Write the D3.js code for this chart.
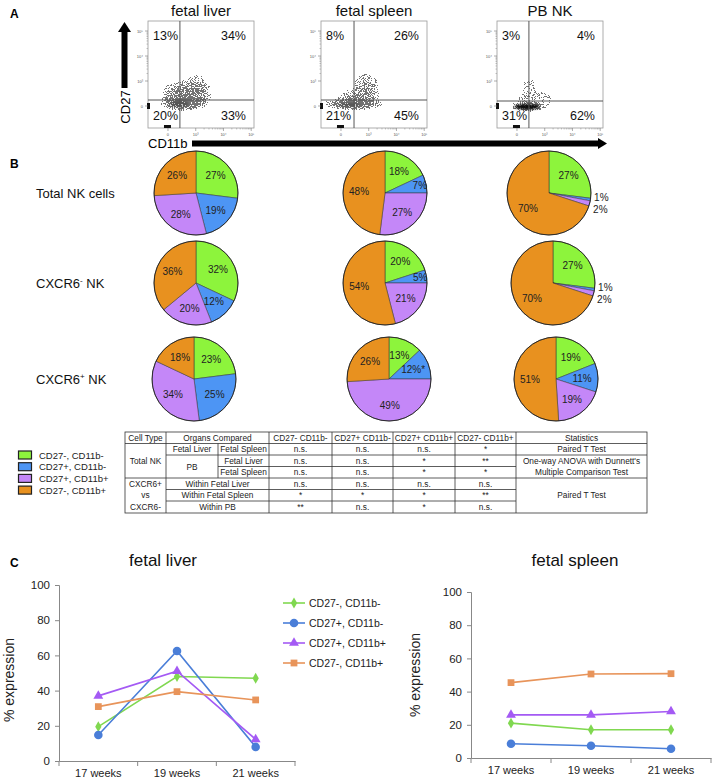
<!DOCTYPE html>
<html><head><meta charset="utf-8">
<script src="https://cdn.jsdelivr.net/npm/d3@7"></script>
<style>
body{margin:0;background:#fff}
svg{display:block;font-family:"Liberation Sans",Arial,Helvetica,sans-serif}
</style>
</head><body>
<svg id="c" width="713" height="781"></svg>
<script>
// ---------------- DATA ----------------
const flowTitles = ["fetal liver", "fetal spleen", "PB NK"];
// quadrant percentages: upper-left, upper-right, lower-left, lower-right
const flowQuadrants = [[13, 34, 20, 33], [8, 26, 21, 45], [3, 4, 31, 62]];
// gate positions (CD11b, CD27) in decade units
const flowGates = [[0.43, 0.24], [0.47, 0.24], [0.43, 0.2]];
const flowTickLabels = ["0", "10³", "10⁴", "10⁵"];
// event clouds: [cx, cy, rx, ry, density] in decade units
const cloudLiver = [[0.55, 0.15, 0.95, 0.4, 1.0], [0.8, 0.45, 0.95, 0.65, 0.7], [1.0, 0.85, 0.6, 0.55, 0.45], [0.15, 0.55, 0.55, 0.55, 0.35]];
const cloudSpleen = [[0.45, 0.08, 1.25, 0.28, 1.0], [0.9, 0.75, 0.6, 0.7, 0.55], [0.6, 0.35, 0.95, 0.45, 0.5]];
const cloudPB = [[0.4, -0.02, 0.7, 0.25, 0.9], [0.65, 0.25, 1.0, 0.55, 0.35], [0.45, 0.85, 0.35, 0.55, 0.3]];
const flowClouds = [cloudLiver, cloudSpleen, cloudPB];
// dense cores (solid)
const flowCores = [[[0.4, 0.08, 0.35, 0.14]], [[0.3, 0.05, 0.4, 0.08]], [[0.36, -0.03, 0.45, 0.11]]];
const flowCoreOpacity = [0.25, 0.25, 0.95];

const subsets = ["CD27-, CD11b-", "CD27+, CD11b-", "CD27+, CD11b+", "CD27-, CD11b+"];
const pieColumns = ["fetal liver", "fetal spleen", "PB NK"];
const pieRowLabels = [["Total NK cells", ""], ["CXCR6", "-"], ["CXCR6", "+"]];
const pieTotal = [[27, 19, 28, 26], [18, 7, 27, 48], [27, 1, 2, 70]];
const pieCXCR6neg = [[32, 12, 20, 36], [20, 5, 21, 54], [27, 1, 2, 70]];
const pieCXCR6pos = [[23, 25, 34, 18], [13, 12, 49, 26], [19, 11, 19, 51]];
const pieStars = [[null, null, null], [null, null, null], [null, [null, "*", null, null], null]];

const tableHeader = ["Cell Type", "Organs Compared", "CD27- CD11b-", "CD27+ CD11b-", "CD27+ CD11b+", "CD27- CD11b+", "Statistics"];
const tableSig = [
  ["n.s.", "n.s.", "n.s.", "*"],
  ["n.s.", "n.s.", "*", "**"],
  ["n.s.", "n.s.", "*", "*"],
  ["n.s.", "n.s.", "n.s.", "n.s."],
  ["*", "*", "*", "**"],
  ["**", "n.s.", "*", "n.s."]
];

const weeks = ["17 weeks", "19 weeks", "21 weeks"];
const liverGreen = [19.5, 48, 47];
const liverBlue = [14.8, 62.5, 8];
const liverPurple = [37, 51, 12.3];
const liverOrange = [30.9, 39.4, 34.7];
const spleenGreen = [21, 17, 17];
const spleenBlue = [8.6, 7.4, 5.6];
const spleenPurple = [26, 26, 28];
const spleenOrange = [45.4, 50.6, 50.8];
const yTicks = [0, 20, 40, 60, 80, 100];

// ---------------- STYLE ----------------
const pieColors = ["#8df43c", "#4d95f4", "#c487f8", "#e8911f"];
const lineColors = ["#80d850", "#4a7ed8", "#a45af4", "#e8945a"];
const symbols = [d3.symbolDiamond, d3.symbolCircle, d3.symbolTriangle, d3.symbolSquare];
const symSizes = [34, 58, 42, 46];

const svg = d3.select("#c");
const defs = svg.append("defs");

// speckle filter to render event dots
const f = defs.append("filter").attr("id", "speckle").attr("filterUnits", "userSpaceOnUse")
  .attr("x", -10).attr("y", -10).attr("width", 130).attr("height", 130)
  .attr("color-interpolation-filters", "sRGB");
f.append("feTurbulence").attr("type", "fractalNoise").attr("baseFrequency", 0.9)
  .attr("numOctaves", 1).attr("seed", 5).attr("result", "n");
f.append("feColorMatrix").attr("in", "n").attr("type", "matrix")
  .attr("values", "0 0 0 0 0  0 0 0 0 0  0 0 0 0 0  3 0 0 0 -0.8").attr("result", "na");
f.append("feComposite").attr("in", "na").attr("in2", "SourceGraphic").attr("operator", "arithmetic")
  .attr("k1", 0).attr("k2", 1).attr("k3", 1).attr("k4", -1).attr("result", "s");
f.append("feComponentTransfer").attr("in", "s").append("feFuncA").attr("type", "discrete")
  .attr("tableValues", "0 0.55 0.55 0.55 0.55");

const rg = defs.append("radialGradient").attr("id", "rg");
rg.append("stop").attr("offset", 0).attr("stop-color", "#000").attr("stop-opacity", 1);
rg.append("stop").attr("offset", 0.55).attr("stop-color", "#000").attr("stop-opacity", 0.65);
rg.append("stop").attr("offset", 1).attr("stop-color", "#000").attr("stop-opacity", 0);

const blur = defs.append("filter").attr("id", "soft");
blur.append("feGaussianBlur").attr("stdDeviation", 1.3);

// panel letters
[["A", 10, 18], ["B", 10, 168], ["C", 10, 567]].forEach(([t, x, y]) =>
  svg.append("text").attr("x", x).attr("y", y).attr("font-size", 12).attr("font-weight", "bold").text(t));

// ---------------- PANEL A ----------------
const flowW = 106, flowH = 107, flowTop = 21, flowLefts = [148, 321, 497];
flowTitles.forEach((title, i) => {
  const g = svg.append("g").attr("transform", `translate(${flowLefts[i]},${flowTop})`);
  const x = d3.scaleLinear().domain([-0.72, 3.1]).range([0, flowW]);
  const y = d3.scaleLinear().domain([-0.88, 3.4]).range([flowH, 0]);
  const cid = "clip" + i;
  defs.append("clipPath").attr("id", cid).append("rect").attr("width", flowW).attr("height", flowH);

  const cg = g.append("g").attr("clip-path", `url(#${cid})`);
  cg.append("g").attr("filter", "url(#soft)")
    .selectAll("ellipse").data(flowCores[i]).join("ellipse")
    .attr("cx", d => x(d[0])).attr("cy", d => y(d[1]))
    .attr("rx", d => x(d[2]) - x(0)).attr("ry", d => y(0) - y(d[3]))
    .attr("fill", "#111").attr("fill-opacity", flowCoreOpacity[i]);
  cg.append("g").attr("filter", "url(#speckle)")
    .selectAll("ellipse").data(flowClouds[i]).join("ellipse")
    .attr("cx", d => x(d[0])).attr("cy", d => y(d[1]))
    .attr("rx", d => x(d[2]) - x(0)).attr("ry", d => y(0) - y(d[3]))
    .attr("fill", "url(#rg)").attr("fill-opacity", d => d[4]);

  // frame
  g.append("rect").attr("width", flowW).attr("height", flowH).attr("fill", "none")
    .attr("stroke", "#9a9a9a").attr("stroke-width", 0.8);
  // gates
  g.append("line").attr("x1", x(flowGates[i][0])).attr("x2", x(flowGates[i][0]))
    .attr("y1", 0).attr("y2", flowH).attr("stroke", "#555").attr("stroke-width", 1);
  g.append("line").attr("x1", 0).attr("x2", flowW).attr("y1", y(flowGates[i][1]))
    .attr("y2", y(flowGates[i][1])).attr("stroke", "#555").attr("stroke-width", 1);
  // axis piles
  g.append("rect").attr("x", -1).attr("y", y(0) - 3).attr("width", 3).attr("height", 6).attr("fill", "#111");
  g.append("rect").attr("x", x(0) - 4).attr("y", flowH - 3).attr("width", 7).attr("height", 3).attr("fill", "#111");

  // ticks
  const ti = d3.range(flowTickLabels.length);
  g.selectAll(".yt").data(ti).join("line").attr("x1", -3).attr("x2", 0)
    .attr("y1", d => y(d)).attr("y2", d => y(d)).attr("stroke", "#777").attr("stroke-width", 0.6);
  g.selectAll(".xt").data(ti).join("line").attr("y1", flowH).attr("y2", flowH + 3)
    .attr("x1", d => x(d)).attr("x2", d => x(d)).attr("stroke", "#777").attr("stroke-width", 0.6);
  const minor = [];
  [1, 2].forEach(dec => [2, 3, 4, 5, 6, 7, 8, 9].forEach(k => minor.push(dec + Math.log10(k))));
  g.selectAll(".xm").data(minor).join("line").attr("y1", flowH).attr("y2", flowH + 1.5)
    .attr("x1", d => x(d)).attr("x2", d => x(d)).attr("stroke", "#888").attr("stroke-width", 0.5);
  g.selectAll(".ym").data(minor).join("line").attr("x1", -1.5).attr("x2", 0)
    .attr("y1", d => y(d)).attr("y2", d => y(d)).attr("stroke", "#888").attr("stroke-width", 0.5);
  g.selectAll(".ytl").data(ti).join("text").attr("x", -5).attr("y", d => y(d) + 1.5)
    .attr("text-anchor", "end").attr("font-size", 4).attr("fill", "#555").text(d => flowTickLabels[d]);
  g.selectAll(".xtl").data(ti).join("text").attr("x", d => x(d)).attr("y", flowH + 8)
    .attr("text-anchor", "middle").attr("font-size", 4).attr("fill", "#555").text(d => flowTickLabels[d]);

  // quadrant labels
  const q = flowQuadrants[i];
  const qt = (tx, ty, anchor, v) => g.append("text").attr("x", tx).attr("y", ty)
    .attr("text-anchor", anchor).attr("font-size", 12.5).attr("fill", "#111").text(v + "%");
  qt(5, 19, "start", q[0]);
  qt(flowW - 8, 19, "end", q[1]);
  qt(5, 99, "start", q[2]);
  qt(flowW - 8, 99, "end", q[3]);

  svg.append("text").attr("x", flowLefts[i] + flowW / 2).attr("y", 16).attr("text-anchor", "middle")
    .attr("font-size", 15).attr("fill", "#111").text(title);
});
// CD27 arrow
svg.append("rect").attr("x", 121.5).attr("y", 30).attr("width", 6).attr("height", 58).attr("fill", "#000");
svg.append("path").attr("d", "M118,32 L131,32 L124.5,22 Z").attr("fill", "#000");
svg.append("text").attr("transform", "translate(130,107) rotate(-90)").attr("text-anchor", "middle")
  .attr("font-size", 13).text("CD27");
// CD11b arrow
svg.append("text").attr("x", 148).attr("y", 148).attr("font-size", 13).text("CD11b");
svg.append("rect").attr("x", 192).attr("y", 140.5).attr("width", 408).attr("height", 6).attr("fill", "#000");
svg.append("path").attr("d", "M598,138 L598,149 L607,143.5 Z").attr("fill", "#000");

// ---------------- PANEL B ----------------
const pieData = [pieTotal, pieCXCR6neg, pieCXCR6pos];
const colXs = [[196, 385, 549], [196, 385, 553], [194, 389, 556]];
const rowY = [193, 283, 379];
const R = 42;
const pie = d3.pie().sort(null).value(d => d);
const arc = d3.arc().innerRadius(0).outerRadius(R);

pieRowLabels.forEach((lab, ri) => {
  const t = svg.append("text").attr("x", 36).attr("y", rowY[ri] + 5).attr("font-size", 13).attr("fill", "#111");
  t.append("tspan").text(lab[0]);
  if (lab[1]) {
    t.append("tspan").attr("font-size", 8).attr("dy", -5).text(lab[1]);
    t.append("tspan").attr("dy", 5).text(" NK");
  }
  pieColumns.forEach((col, ci) => {
    const vals = pieData[ri][ci];
    const g = svg.append("g").attr("transform", `translate(${colXs[ri][ci]},${rowY[ri]})`);
    const arcs = pie(vals);
    g.selectAll("path").data(arcs).join("path").attr("d", arc)
      .attr("fill", (d, k) => pieColors[k]).attr("stroke", "#333").attr("stroke-width", 0.5);
    g.append("circle").attr("r", R).attr("fill", "none").attr("stroke", "#222").attr("stroke-width", 0.9);
    const labs = arcs.map((a, k) => {
      const mid = (a.startAngle + a.endAngle) / 2;
      const v = a.data;
      const rr = v <= 2 ? R + 11 : (v < 8 ? R * 0.85 : R * 0.62);
      return { x: Math.sin(mid) * rr, y: -Math.cos(mid) * rr, v, k, out: v <= 2 };
    });
    const outs = labs.filter(l => l.out);
    for (let j = 1; j < outs.length; j++) {
      const gap = outs[j].y - outs[j - 1].y;
      if (gap < 12) { const dlt = (12 - gap) / 2; outs[j - 1].y -= dlt; outs[j].y += dlt; }
    }
    const stars = pieStars[ri][ci];
    g.selectAll("text").data(labs).join("text")
      .attr("x", d => d.x).attr("y", d => d.y + 3.5).attr("text-anchor", "middle")
      .attr("font-size", 10).attr("fill", "#222")
      .text(d => d.v + "%" + (stars && stars[d.k] ? stars[d.k] : ""));
  });
});

// pie legend
subsets.forEach((s, k) => {
  const yy = 451 + k * 11.7;
  svg.append("rect").attr("x", 18.5).attr("y", yy).attr("width", 13).attr("height", 8)
    .attr("fill", pieColors[k]).attr("stroke", "#222").attr("stroke-width", 1.2);
  svg.append("text").attr("x", 39).attr("y", yy + 7.5).attr("font-size", 9.5).attr("fill", "#222").text(s);
});

// table
const xs = [125, 166, 218, 269, 332, 393, 455, 516, 647];
const ys = [432, 443.5, 455, 466.5, 478, 489.5, 501, 513];
const tg = svg.append("g").attr("stroke", "#333").attr("stroke-width", 0.8);
const hl = (x1, x2, y) => tg.append("line").attr("x1", x1).attr("x2", x2).attr("y1", y).attr("y2", y);
const vl = (x, y1, y2) => tg.append("line").attr("x1", x).attr("x2", x).attr("y1", y1).attr("y2", y2);
tg.append("rect").attr("x", xs[0]).attr("y", ys[0]).attr("width", xs[8] - xs[0]).attr("height", ys[7] - ys[0]).attr("fill", "none");
hl(xs[0], xs[8], ys[1]);
hl(xs[1], xs[8], ys[2]);
hl(xs[2], xs[7], ys[3]);
hl(xs[0], xs[8], ys[4]);
hl(xs[1], xs[7], ys[5]);
hl(xs[1], xs[7], ys[6]);
vl(xs[1], ys[0], ys[7]);
vl(xs[2], ys[1], ys[4]);
[3, 4, 5, 6, 7].forEach(i => vl(xs[i], ys[0], ys[7]));
const tt = (x, y, s) => svg.append("text").attr("x", x).attr("y", y + 3).attr("text-anchor", "middle")
  .attr("font-size", 8.3).attr("fill", "#222").text(s);
const rc = r => (ys[r] + ys[r + 1]) / 2;
const cc = c => (xs[c] + xs[c + 1]) / 2;
tt(cc(0), rc(0), tableHeader[0]);
tt((xs[1] + xs[3]) / 2, rc(0), tableHeader[1]);
[2, 3, 4, 5].forEach(i => tt(cc(i + 1), rc(0), tableHeader[i]));
tt(cc(7), rc(0), tableHeader[6]);
tt(cc(0), rc(2), "Total NK");
tt(cc(0), rc(4), "CXCR6+");
tt(cc(0), rc(5), "vs");
tt(cc(0), rc(6), "CXCR6-");
tt(cc(1), rc(1), "Fetal Liver");
tt(cc(2), rc(1), "Fetal Spleen");
tt(cc(1), (ys[2] + ys[4]) / 2, "PB");
tt(cc(2), rc(2), "Fetal Liver");
tt(cc(2), rc(3), "Fetal Spleen");
tt((xs[1] + xs[3]) / 2, rc(4), "Within Fetal Liver");
tt((xs[1] + xs[3]) / 2, rc(5), "Within Fetal Spleen");
tt((xs[1] + xs[3]) / 2, rc(6), "Within PB");
tableSig.forEach((row, r) => row.forEach((s, c) => tt(cc(c + 3), rc(r + 1), s)));
tt(cc(7), rc(1), "Paired T Test");
tt(cc(7), rc(2), "One-way ANOVA with Dunnett's");
tt(cc(7), rc(3), "Multiple Comparison Test");
tt(cc(7), rc(5), "Paired T Test");

// ---------------- PANEL C ----------------
function lineChart(opts) {
  const { x0, x1, y0, y1, series, title, titleX, ylabX, ylabY } = opts;
  const g = svg.append("g");
  const x = d3.scaleBand().domain(weeks).range([x0, x1]);
  const y = d3.scaleLinear().domain([0, 100]).range([y0, y1]);
  const ya = g.append("g").attr("transform", `translate(${x0},0)`)
    .call(d3.axisLeft(y).tickValues(yTicks).tickSize(4).tickPadding(5));
  ya.select(".domain").attr("stroke", "#888");
  ya.selectAll(".tick line").attr("stroke", "#888");
  ya.selectAll("text").attr("font-size", 11.5).attr("fill", "#222").attr("font-family", "Liberation Sans, Arial, sans-serif");
  const xa = g.append("g").attr("transform", `translate(0,${y0})`)
    .call(d3.axisBottom(x).tickSize(0).tickPadding(8).tickSizeOuter(0));
  xa.select(".domain").attr("stroke", "#888");
  xa.selectAll("text").attr("font-size", 11).attr("fill", "#222").attr("font-family", "Liberation Sans, Arial, sans-serif");
  const bounds = weeks.map(w => x(w)).concat([x1]);
  g.selectAll(".bt").data(bounds).join("line").attr("x1", d => d).attr("x2", d => d)
    .attr("y1", y0).attr("y2", y0 + 5).attr("stroke", "#888");
  const line = d3.line().x((d, i) => x(weeks[i]) + x.bandwidth() / 2).y(d => y(d));
  series.forEach((vals, k) => {
    g.append("path").attr("d", line(vals)).attr("fill", "none").attr("stroke", lineColors[k]).attr("stroke-width", 1.6);
    g.selectAll(null).data(vals).join("path")
      .attr("transform", (d, i) => `translate(${x(weeks[i]) + x.bandwidth() / 2},${y(d)})`)
      .attr("d", d3.symbol().type(symbols[k]).size(symSizes[k])).attr("fill", lineColors[k]);
  });
  svg.append("text").attr("x", titleX).attr("y", 566).attr("text-anchor", "middle").attr("font-size", 17)
    .attr("fill", "#111").text(title);
  svg.append("text").attr("transform", `translate(${ylabX},${ylabY}) rotate(-90)`).attr("text-anchor", "middle")
    .attr("font-size", 14).attr("fill", "#222").text("% expression");
}
lineChart({ x0: 59, x1: 295, y0: 761, y1: 585, series: [liverGreen, liverBlue, liverPurple, liverOrange],
  title: "fetal liver", titleX: 163, ylabX: 14, ylabY: 680 });
lineChart({ x0: 471, x1: 711, y0: 758, y1: 592, series: [spleenGreen, spleenBlue, spleenPurple, spleenOrange],
  title: "fetal spleen", titleX: 575, ylabX: 420, ylabY: 675 });

// line legend
subsets.forEach((s, k) => {
  const yy = 603 + k * 20;
  svg.append("line").attr("x1", 283).attr("x2", 305).attr("y1", yy).attr("y2", yy)
    .attr("stroke", lineColors[k]).attr("stroke-width", 1.6);
  svg.append("path").attr("transform", `translate(294,${yy})`)
    .attr("d", d3.symbol().type(symbols[k]).size(symSizes[k])).attr("fill", lineColors[k]);
  svg.append("text").attr("x", 309).attr("y", yy + 3.8).attr("font-size", 10.5).attr("fill", "#222").text(s);
});
</script>
</body></html>
